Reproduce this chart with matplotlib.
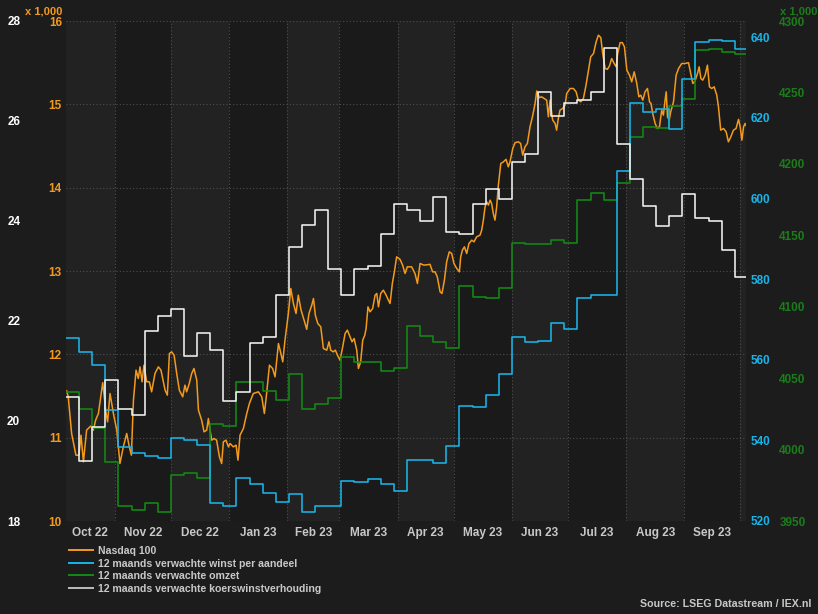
import numpy as np
import matplotlib
matplotlib.use('Agg')
import matplotlib.pyplot as plt
import matplotlib.dates as mdates
from matplotlib.lines import Line2D
import datetime as dt

# periode van de grafiek
start = dt.date(2022, 10, 6)
end = dt.date(2023, 10, 4)

# wekelijkse reeksen (elke donderdag vanaf 6 okt 2022)
winst = [565.4, 561.9, 558.7, 547.5, 538.4, 536.9, 536.2, 535.7, 540.6, 540.1,
         538.9, 524.5, 523.7, 530.7, 529.2, 527.0, 524.7, 526.7, 522.2, 523.7,
         523.7, 529.9, 529.7, 530.4, 529.2, 527.4, 535.1, 535.1, 534.4, 538.6,
         548.5, 548.3, 551.3, 556.5, 565.7, 564.4, 564.7, 569.1, 567.6, 575.3,
         576.1, 576.1, 606.8, 623.7, 621.5, 622.2, 617.3, 629.7, 638.9, 639.4,
         639.1, 637.1]
omzet = [4040.5, 4028.4, 4015.0, 3991.3, 3960.5, 3957.7, 3962.6, 3956.3, 3982.2, 3983.6,
         3980.1, 4017.9, 4016.5, 4047.6, 4047.2, 4041.3, 4034.7, 4052.7, 4028.7, 4031.7,
         4035.9, 4065.0, 4061.6, 4061.6, 4055.2, 4056.9, 4086.8, 4079.6, 4075.1, 4070.9,
         4114.8, 4107.1, 4106.4, 4113.4, 4144.5, 4143.8, 4143.8, 4146.8, 4144.9, 4174.5,
         4179.9, 4174.5, 4186.5, 4219.1, 4226.1, 4225.0, 4240.2, 4245.5, 4279.8, 4280.5,
         4278.2, 4277.0]
kw = [20.47, 19.19, 19.87, 20.82, 20.24, 20.11, 21.81, 22.09, 22.24, 21.30,
      21.75, 21.42, 20.39, 20.57, 21.55, 21.67, 22.52, 23.47, 23.92, 24.22,
      23.04, 22.52, 23.04, 23.10, 23.74, 24.34, 24.22, 24.00, 24.47, 23.77,
      23.73, 24.34, 24.63, 24.44, 25.17, 25.33, 26.57, 26.10, 26.35, 26.42,
      26.57, 27.45, 25.54, 24.83, 24.29, 23.90, 24.10, 24.54, 24.05, 24.00,
      23.42, 22.87]

# Nasdaq 100: (dagen na start, koers)
nasdaq = [(0.4, 11560), (1.2, 11490), (3.0, 11050), (5.3, 10790), (6.9, 10790), (8.0, 11030),
          (9.3, 10710), (11.0, 11090), (13.2, 11140), (14.6, 11090), (15.8, 11210), (17.3, 11290),
          (19.6, 11660), (21.4, 11290), (22.2, 11190), (23.5, 11530), (25.3, 11290), (27.1, 11090),
          (28.8, 10690), (30.6, 10890), (32.4, 11050), (33.8, 10890), (34.9, 10790), (36.0, 11450),
          (37.4, 11810), (38.6, 11710), (39.5, 11850), (40.6, 11670), (41.6, 11870), (43.1, 11670),
          (44.5, 11670), (45.7, 11550), (47.5, 11770), (49.3, 11850), (50.7, 11810), (52.0, 11670),
          (52.9, 11570), (54.1, 11510), (55.2, 12010), (56.4, 12030), (57.7, 11990), (59.1, 11770),
          (60.5, 11570), (62.3, 11490), (63.5, 11630), (64.4, 11550), (65.8, 11650), (67.1, 11770),
          (68.3, 11830), (69.8, 11690), (70.7, 11330), (72.4, 11210), (73.7, 11070), (75.1, 11090),
          (76.0, 11230), (76.9, 11090), (77.8, 10970), (79.0, 10990), (80.4, 10970), (81.9, 10770),
          (83.1, 10690), (84.0, 10950), (85.4, 10970), (86.7, 10890),
          (87.6, 10930), (89.3, 10890), (90.8, 10910), (91.8, 10730), (92.9, 11030), (94.7, 11110),
          (96.5, 11290), (97.9, 11410), (100.0, 11530), (102.7, 11550), (104.5, 11490), (105.9, 11290),
          (107.1, 11530), (108.6, 11870), (110.3, 11830), (111.6, 11730), (113.4, 12130), (114.3, 12050),
          (115.7, 11910), (116.9, 12170), (118.7, 12490), (120.0, 12790), (121.4, 12610), (122.8, 12490),
          (124.0, 12710), (125.5, 12530), (127.1, 12410), (128.5, 12300), (129.7, 12490), (131.2, 12590),
          (132.1, 12670), (133.1, 12470), (134.4, 12370), (136.0, 12330), (137.4, 12070), (139.2, 12050),
          (140.4, 12150), (141.3, 12050), (142.7, 12030), (143.8, 12050), (144.9, 11990), (146.3, 11930),
          (147.7, 12090), (149.0, 12250), (150.2, 12290), (151.6, 12210), (152.7, 12150), (153.8, 12190),
          (155.2, 12050), (156.1, 11830), (157.3, 11910), (158.4, 12170), (159.5, 12230), (160.2, 12310),
          (161.2, 12570), (162.3, 12510), (163.7, 12550), (165.0, 12710), (165.9, 12730), (166.8, 12570),
          (168.0, 12730), (169.4, 12770), (170.9, 12710), (172.1, 12650), (173.0, 12610), (174.2, 12850),
          (175.3, 12990), (176.5, 13170),
          (178.3, 13140), (179.7, 13070), (181.0, 12970), (182.2, 13050), (184.5, 13050), (186.3, 12970),
          (187.6, 12850), (189.0, 13090), (191.1, 13070), (194.3, 13080), (195.7, 12990), (197.0, 12990),
          (198.2, 12930), (199.7, 12750), (200.7, 12730), (202.0, 12890), (203.2, 13110), (204.6, 13230),
          (205.9, 13210), (207.1, 13090), (208.6, 13030), (210.0, 12990), (210.7, 13170), (211.6, 13250),
          (212.7, 13290), (213.9, 13210), (215.1, 13330), (216.6, 13370), (217.8, 13350), (219.2, 13410),
          (221.0, 13430), (221.9, 13490), (222.8, 13610), (223.7, 13770), (224.6, 13830), (225.5, 13790),
          (226.4, 13850), (227.2, 13810), (228.1, 13690), (229.0, 13610), (229.9, 13770), (230.8, 14030),
          (232.1, 14290), (233.5, 14310), (234.9, 14340), (236.1, 14250), (237.0, 14310), (238.5, 14470),
          (239.7, 14540), (241.5, 14550), (242.7, 14530), (243.8, 14390), (245.0, 14490), (246.3, 14530),
          (247.7, 14730), (249.0, 14850), (250.4, 15010), (251.3, 15160), (252.7, 15080), (253.9, 15090),
          (255.2, 15070), (256.6, 15050), (257.5, 14850), (258.4, 15050), (259.8, 14810), (261.1, 14770),
          (261.9, 14690), (262.8, 14830), (263.7, 14930), (265.1, 14950), (266.4, 14990), (267.3, 15130),
          (269.1, 15190), (270.9, 15190), (272.3, 15150), (273.5, 15050), (274.8, 15030), (276.2, 15070),
          (277.6, 15230), (278.9, 15410), (280.1, 15570), (281.6, 15610), (283.0, 15750), (284.2, 15830),
          (285.5, 15800), (286.5, 15610), (287.8, 15430), (289.0, 15420), (290.1, 15460), (291.3, 15550),
          (292.6, 15490), (293.7, 15450), (294.5, 15610), (295.8, 15740), (297.0, 15740), (298.1, 15690),
          (299.4, 15410), (300.8, 15350), (302.0, 15270), (303.3, 15390), (304.7, 15250), (305.8, 15090),
          (306.8, 15110), (307.9, 15050), (309.1, 15150), (310.4, 15190), (311.5, 15030), (312.3, 15010),
          (313.2, 14890), (314.5, 14770), (315.7, 14710), (316.8, 14730), (318.0, 14930), (318.9, 14870),
          (319.8, 15050), (320.4, 15150), (321.1, 14850), (322.0, 14810), (322.8, 14910), (324.3, 15030),
          (325.7, 15350), (327.0, 15430), (328.7, 15490), (330.5, 15490), (332.3, 15500), (333.5, 15370),
          (334.6, 15250), (335.8, 15280), (337.1, 15370), (338.0, 15450), (338.9, 15310), (339.9, 15290),
          (341.2, 15350), (342.4, 15470), (343.5, 15210), (344.7, 15190), (346.0, 15210), (347.4, 15110),
          (348.3, 14970), (349.5, 14690), (351.0, 14710), (352.4, 14670), (353.6, 14550), (354.9, 14610),
          (356.3, 14690), (357.7, 14710), (359.0, 14820), (359.9, 14730), (360.8, 14570), (361.7, 14730),
          (362.5, 14770), (363.4, 14730)]

month_labels = ['Oct 22', 'Nov 22', 'Dec 22', 'Jan 23', 'Feb 23', 'Mar 23', 'Apr 23',
                'May 23', 'Jun 23', 'Jul 23', 'Aug 23', 'Sep 23']
names = ['Nasdaq 100', '12 maands verwachte winst per aandeel',
         '12 maands verwachte omzet', '12 maands verwachte koerswinstverhouding']

c_nas = '#f39a1c'
c_eps = '#1ab4e8'
c_rev = '#138a13'
c_pe = '#f2f2f2'
c_txt = '#c8c8c8'
bg = '#1c1c1c'

plt.rcParams['font.family'] = ['Liberation Sans', 'DejaVu Sans']
plt.rcParams['font.weight'] = 'bold'

fig = plt.figure(figsize=(8.18, 6.14), dpi=100, facecolor=bg)
ax = fig.add_axes([66/818, 93/614, 680/818, 500/614])
ax.set_facecolor('#1a1a1a')

x0 = mdates.date2num(start)
x1 = mdates.date2num(end)
ax.set_xlim(x0, x1)

# maandgrenzen en afwisselende banden
mstarts = []
for k in range(1, 13):
    m = 10 + k
    mstarts.append(mdates.date2num(dt.date(2022 + (m - 1)//12, (m - 1) % 12 + 1, 1)))
edges = [x0] + mstarts + [x1]
for i in range(len(edges) - 1):
    if i % 2 == 0:
        ax.axvspan(edges[i], edges[i+1], color='#222222', lw=0, zorder=0)
mids = [(edges[i] + edges[i+1]) / 2 for i in range(12)]

ax.set_xticks(mstarts)
ax.set_xticklabels([])
ax.set_xticks(mids, minor=True)
ax.set_xticklabels(month_labels, minor=True)
ax.tick_params(axis='x', which='both', length=0, pad=4, labelcolor=c_txt, labelsize=8.5)
ax.grid(True, which='major', ls=(0, (1, 2)), color='#4e4e4e', lw=0.8)

# Nasdaq op hoofdas
nd = x0 + np.array([p[0] for p in nasdaq])
nv = np.array([p[1] for p in nasdaq])
ax.plot(nd, nv, color=c_nas, lw=1.1)
ax.set_ylim(10000, 16000)
ax.set_yticks(range(10000, 16001, 1000))
ax.set_yticklabels(['10', '11', '12', '13', '14', '15', '16'])
ax.tick_params(axis='y', length=0, pad=3, labelcolor=c_nas, labelsize=8.5)

wk = np.append(x0 + 7*np.arange(len(winst)), x1)

def ext(v):
    return np.append(v, v[-1])

ax_g = ax.twinx()
ax_g.plot(wk, ext(omzet), color=c_rev, lw=1.15, drawstyle='steps-post')
ax_g.set_ylim(3950, 4300)
ax_g.set_yticks(range(3950, 4301, 50))
ax_g.tick_params(axis='y', length=0, pad=24, labelcolor='#1a7d1a', labelsize=8.5)

ax_c = ax.twinx()
ax_c.plot(wk, ext(winst), color=c_eps, lw=1.15, drawstyle='steps-post')
ax_c.set_ylim(520, 644)
ax_c.set_yticks(range(520, 641, 20))
ax_c.tick_params(axis='y', length=0, pad=3.5, labelcolor=c_eps, labelsize=8.5)

ax_w = ax.twinx()
ax_w.plot(wk, ext(kw), color=c_pe, lw=1.15, drawstyle='steps-post')
ax_w.set_ylim(18, 28)
ax_w.set_yticks(range(18, 29, 2))
ax_w.yaxis.set_ticks_position('left')
ax_w.tick_params(axis='y', length=0, pad=33, labelcolor='white', labelsize=8.5)

for a in [ax, ax_g, ax_c, ax_w]:
    for s in a.spines.values():
        s.set_visible(False)

fig.text(62/818, 1 - 11/614, 'x 1,000', ha='right', va='center', color=c_nas, fontsize=8)
fig.text(780/818, 1 - 11/614, 'x 1,000', ha='left', va='center', color='#1a7d1a', fontsize=8)

handles = [Line2D([], [], color=c, lw=1.4) for c in [c_nas, c_eps, c_rev, '#bdbdbd']]
fig.legend(handles, names, loc='upper left', bbox_to_anchor=(69/818, 1 - 546/614),
           frameon=False, fontsize=7.6, labelcolor=c_txt, handlelength=2.3,
           handletextpad=0.4, labelspacing=0.24, borderaxespad=0, borderpad=0)

fig.text(811/818, 1 - 604/614, 'Source: LSEG Datastream / IEX.nl', ha='right', va='center',
         color=c_txt, fontsize=7.7)

fig.savefig('out.png', dpi=100, facecolor=bg)
